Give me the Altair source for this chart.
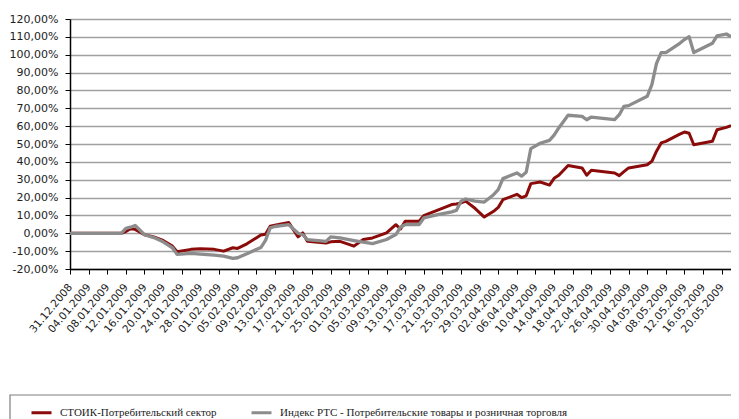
import altair as alt
import pandas as pd

dates = [
    "2008-12-31", "2009-01-11", "2009-01-12", "2009-01-13", "2009-01-14", "2009-01-16",
    "2009-01-18", "2009-01-20", "2009-01-22", "2009-01-23", "2009-01-26", "2009-01-28",
    "2009-01-31", "2009-02-02", "2009-02-04", "2009-02-05", "2009-02-07", "2009-02-09",
    "2009-02-10", "2009-02-11", "2009-02-12", "2009-02-13", "2009-02-16", "2009-02-18",
    "2009-02-19", "2009-02-20", "2009-02-24", "2009-02-25", "2009-02-27", "2009-03-02",
    "2009-03-04", "2009-03-06", "2009-03-09", "2009-03-11", "2009-03-12", "2009-03-13",
    "2009-03-16", "2009-03-17", "2009-03-20", "2009-03-23", "2009-03-24", "2009-03-25",
    "2009-03-26", "2009-03-28", "2009-03-30", "2009-04-01", "2009-04-02", "2009-04-03",
    "2009-04-06", "2009-04-07", "2009-04-08", "2009-04-09", "2009-04-11", "2009-04-13",
    "2009-04-14", "2009-04-15", "2009-04-17", "2009-04-20", "2009-04-21", "2009-04-22",
    "2009-04-27", "2009-04-28", "2009-04-29", "2009-04-30", "2009-05-04", "2009-05-05",
    "2009-05-06", "2009-05-07", "2009-05-08", "2009-05-11", "2009-05-12", "2009-05-13",
    "2009-05-14", "2009-05-18", "2009-05-19", "2009-05-21", "2009-05-22",
]

stoik = [
    0.0, 0.0, 1.0, 2.6, 2.2, -0.8,
    -2.0, -4.0, -7.2, -10.3, -9.0, -8.7,
    -9.0, -10.0, -8.1, -8.5, -5.9, -2.6,
    -0.9, -0.5, 3.9, 4.5, 6.0, -2.0,
    0.2, -4.5, -5.4, -4.8, -4.5, -7.2,
    -3.5, -2.6, 0.2, 4.8, 2.4, 6.7,
    6.7, 9.9, 13.0, 16.1, 16.4, 17.0,
    18.0, 14.0, 9.1, 12.3, 14.5, 18.8,
    21.8, 20.0, 21.0, 27.8, 28.7, 27.0,
    30.8, 32.5, 38.0, 36.6, 32.5, 35.3,
    33.8, 32.3, 34.5, 36.6, 38.4, 40.3,
    46.0, 50.6, 51.5, 55.5, 56.7, 56.0,
    49.6, 51.5, 58.0, 59.3, 60.3,
]

rts = [
    0.0, 0.0, 2.8, 3.4, 4.4, -0.8,
    -2.4, -4.8, -8.1, -11.8, -11.3, -11.7,
    -12.2, -12.8, -14.1, -13.7, -11.5, -9.1,
    -8.0, -4.0, 3.0, 3.8, 4.8, 0.0,
    -0.8, -3.5, -4.5, -2.0, -2.6, -4.1,
    -5.0, -5.8, -3.5, -0.7, 3.5, 4.8,
    4.9, 8.6, 10.4, 12.0, 12.8, 17.9,
    19.2, 18.0, 17.5, 21.6, 24.4, 30.6,
    33.8, 32.0, 34.2, 47.4, 50.4, 52.0,
    55.0, 59.0, 66.1, 65.5, 63.6, 65.1,
    63.6, 66.4, 71.1, 71.5, 76.7, 83.2,
    95.2, 101.2, 101.2, 106.4, 108.5, 110.1,
    101.2, 106.4, 110.5, 111.6, 110.1,
]

series_names = [
    "СТОИК-Потребительский сектор",
    "Индекс РТС - Потребительские товары и розничная торговля",
]
series_colors = ["#8B0A0A", "#8C8C8C"]

y_ticks = list(range(-20, 121, 10))
x_tick_days = pd.date_range("2008-12-31", "2009-05-20", freq="4D")

df = pd.concat([
    pd.DataFrame({"date": dates, "value": stoik, "series": series_names[0]}),
    pd.DataFrame({"date": dates, "value": rts, "series": series_names[1]}),
], ignore_index=True)

x_values = [
    alt.DateTime(year=d.year, month=d.month, date=d.day, utc=True) for d in x_tick_days
]

x_enc = alt.X(
    "date:T",
    scale=alt.Scale(
        type="utc",
        domain=[
            alt.DateTime(year=2008, month=12, date=31, utc=True),
            alt.DateTime(year=2009, month=5, date=22, utc=True),
        ],
        nice=False,
    ),
    axis=alt.Axis(
        values=x_values,
        labelExpr="utcFormat(datum.value, '%d.%m.%Y')",
        labelAngle=-50,
        labelAlign="right",
        labelBaseline="middle",
        labelPadding=11,
        tickSize=5,
        tickColor="#000000",
        domainColor="#000000",
        domainWidth=1.5,
        grid=False,
        title=None,
        labelFont="DejaVu Sans",
        labelFontSize=10.5,
        labelColor="#222222",
        labelOverlap=False,
        labelBound=False,
    ),
)

y_enc = alt.Y(
    "value:Q",
    scale=alt.Scale(domain=[-20, 120], nice=False, zero=False),
    axis=alt.Axis(
        values=y_ticks,
        labelExpr="replace(replace(format(datum.value, '.2f'), '.', ','), '\u2212', '-') + '%'",
        tickSize=5,
        tickColor="#000000",
        domainColor="#000000",
        domainWidth=1.5,
        gridColor="#A0A0A0",
        gridWidth=1.3,
        labelPadding=7,
        title=None,
        labelFont="DejaVu Sans",
        labelFontSize=11,
        labelColor="#222222",
    ),
)

color_enc = alt.Color(
    "series:N",
    scale=alt.Scale(domain=series_names, range=series_colors),
    legend=alt.Legend(
        title=None,
        orient="none",
        direction="horizontal",
        legendX=-40,
        legendY=382,
        symbolType="stroke",
        symbolSize=400,
        symbolStrokeWidth=3,
        labelFont="Liberation Sans Narrow",
        labelFontSize=11,
        labelColor="#222222",
        labelLimit=0,
        labelOffset=7,
        columnPadding=28,
        padding=0,
    ),
)

base = alt.Chart(df).mark_line(strokeWidth=3, strokeJoin="round").encode(
    x=x_enc, y=y_enc, color=color_enc
)

red = base.transform_filter(alt.datum.series == series_names[0])
gray = base.transform_filter(alt.datum.series == series_names[1]).mark_line(
    strokeWidth=3.3, strokeJoin="round"
)

box = alt.Chart(pd.DataFrame({"k": [0]})).mark_rect(
    fill="white", stroke="#7F7F7F", strokeWidth=1.2
).encode(
    x=alt.value(-60), x2=alt.value(700), y=alt.value(376), y2=alt.value(430)
)

chart = alt.layer(box, red, gray).properties(
    width=661,
    height=250,
    autosize=alt.AutoSizeParams(type="none"),
    padding={"left": 62, "top": 11, "right": 0, "bottom": 150},
).configure_view(stroke=None)

chart.save("out.html", embed_options={"renderer": "svg", "actions": False})
